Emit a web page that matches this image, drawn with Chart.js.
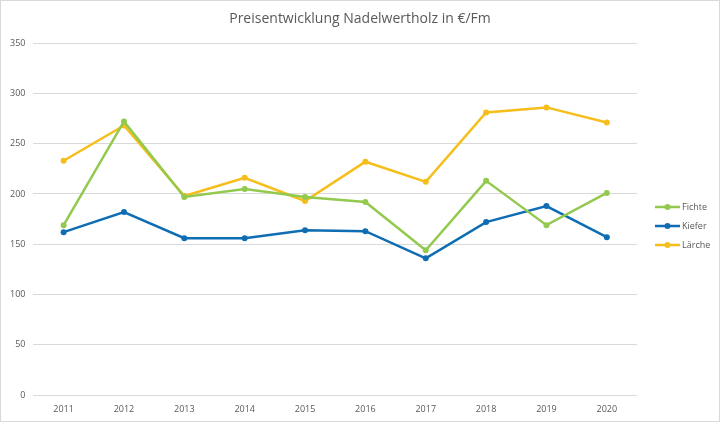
<!DOCTYPE html>
<html>
<head>
<meta charset="utf-8">
<script src="https://cdn.jsdelivr.net/npm/chart.js@4"></script>
<style>
  body { margin: 0; background: #fff; }
  #wrap { width: 718px; height: 420px; border: 1px solid #d9d9d9; position: relative; }
</style>
</head>
<body>
<div id="wrap"><canvas id="preisChart" width="718" height="420"></canvas></div>
<script>
var jahre = ['2011', '2012', '2013', '2014', '2015', '2016', '2017', '2018', '2019', '2020'];
var fichte = [169, 272, 197, 205, 197, 192, 144, 213, 169, 201];
var kiefer = [162, 182, 156, 156, 164, 163, 136, 172, 188, 157];
var laerche = [233, 268, 198, 216, 193, 232, 212, 281, 286, 271];
var yTicks = [0, 50, 100, 150, 200, 250, 300, 350];

var titel = 'Preisentwicklung Nadelwertholz in €/Fm';
var farben = { fichte: '#92C94E', kiefer: '#0F6DB3', laerche: '#F5BE1A' };
var schrift = '"Open Sans", sans-serif';

function serie(name, werte, farbe) {
    return {
        label: name,
        data: werte,
        borderColor: farbe,
        backgroundColor: farbe,
        borderWidth: 2.5,
        pointRadius: 3,
        pointBackgroundColor: farbe,
        pointBorderWidth: 0,
        tension: 0
    };
}

// Titel ueber die ganze Breite zentriert, Legende rechts wie in Excel
var rahmenPlugin = {
    id: 'titelUndLegende',
    afterDraw: function (ch) {
        var g = ch.ctx;
        g.save();
        g.fillStyle = '#595959';
        g.font = '14px ' + schrift;
        g.textAlign = 'center';
        g.textBaseline = 'middle';
        g.fillText(titel, ch.width / 2, 18);

        var x0 = ch.chartArea.right + 18;
        var y0 = 206;
        g.font = '9px ' + schrift;
        g.textAlign = 'left';
        ch.data.datasets.forEach(function (ds, i) {
            var y = y0 + i * 19;
            g.strokeStyle = ds.borderColor;
            g.lineWidth = 2.5;
            g.beginPath(); g.moveTo(x0, y); g.lineTo(x0 + 25, y); g.stroke();
            g.fillStyle = ds.borderColor;
            g.beginPath(); g.arc(x0 + 12.5, y, 3, 0, Math.PI * 2); g.fill();
            g.fillStyle = '#595959';
            g.fillText(ds.label, x0 + 27, y);
        });
        g.restore();
    }
};

var ctx = document.getElementById('preisChart').getContext('2d');
var chart = new Chart(ctx, {
    type: 'line',
    data: {
        labels: jahre,
        datasets: [
            serie('Fichte', fichte, farben.fichte),
            serie('Kiefer', kiefer, farben.kiefer),
            serie('Lärche', laerche, farben.laerche)
        ]
    },
    plugins: [rahmenPlugin],
    options: {
        responsive: false,
        animation: false,
        layout: { padding: { left: 1, right: 82, top: 42, bottom: 5 } },
        plugins: {
            title: { display: false },
            legend: { display: false },
            tooltip: { enabled: false }
        },
        scales: {
            x: {
                offset: true,
                grid: { display: false },
                border: { display: false },
                ticks: {
                    color: '#595959',
                    font: { family: schrift, size: 9 },
                    maxRotation: 0,
                    padding: 1
                }
            },
            y: {
                min: 0,
                max: 350,
                afterBuildTicks: function (ax) {
                    ax.ticks = yTicks.map(function (v) { return { value: v }; });
                },
                grid: { color: '#d9d9d9', lineWidth: 1, drawTicks: false },
                border: { display: false },
                ticks: {
                    color: '#595959',
                    font: { family: schrift, size: 9 },
                    padding: 8
                }
            }
        }
    }
});
</script>
</body>
</html>
